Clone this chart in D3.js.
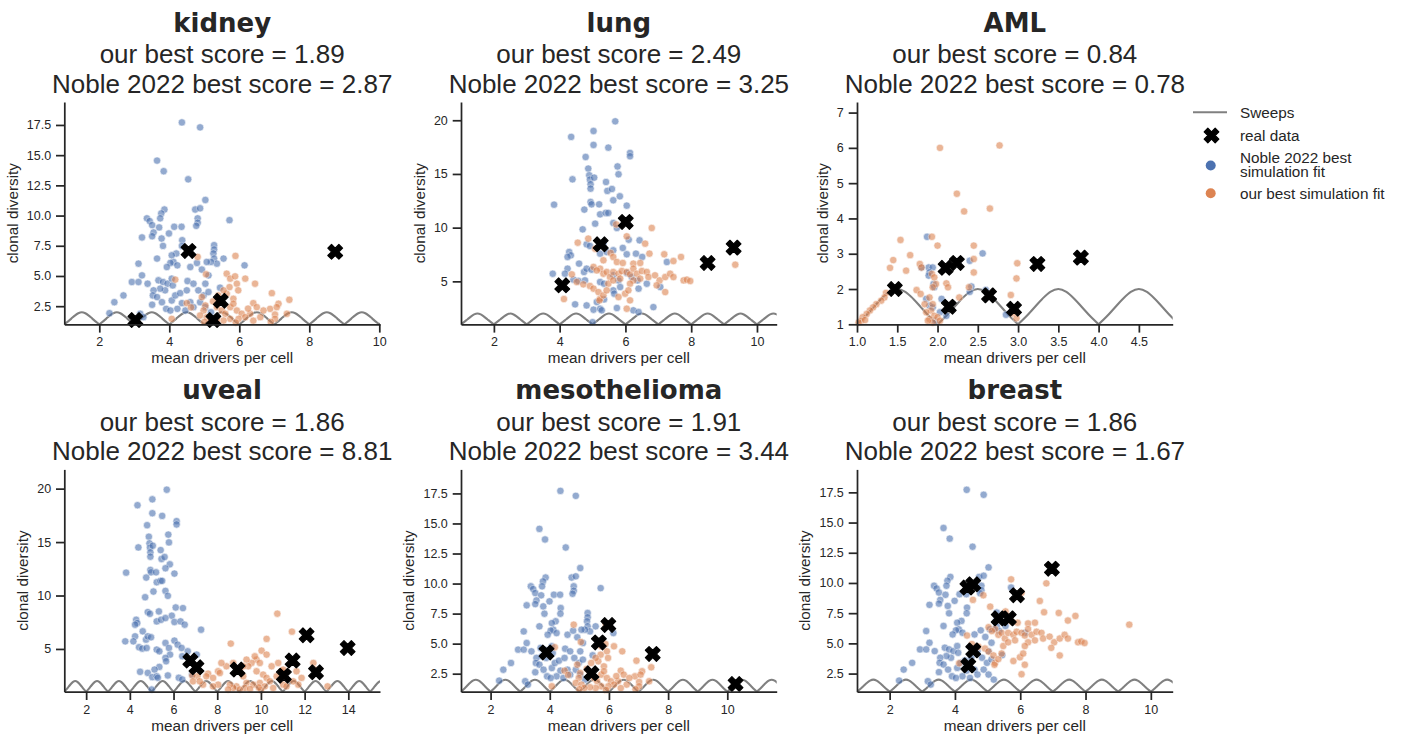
<!DOCTYPE html>
<meta charset="utf-8">
<style>
  body { margin: 0; background: #fff; }
  svg { display: block; }
  text { fill: #262626; }
  .axis path, .axis line { stroke: #262626; stroke-width: 1.74px; }
  .axis text { font: 12.5px "Liberation Sans", Arial, sans-serif; fill: #262626; }
  .label, .legend text { font: 15.3px "Liberation Sans", Arial, sans-serif; }
  .title { font: 26px "Liberation Sans", Arial, sans-serif; }
  .title .name { font-family: "DejaVu Sans", sans-serif; font-weight: bold; }
</style>
<svg width="1403" height="734"></svg>
<script src="https://cdn.jsdelivr.net/npm/d3@7"></script>
<script>
  'use strict';

  // --- data: [mean drivers per cell, clonal diversity] ---

  // Noble 2022 fit shared by kidney, mesothelioma, breast
  const nobleA = [
    [4.36,17.71],[4.88,17.3],[3.65,14.55],[3.84,13.67],[4.54,13.0],[5.03,11.29],[4.74,10.5],[4.88,10.6],
    [3.86,10.5],[3.77,10.18],[3.74,9.77],[3.36,9.77],[3.44,9.54],[3.51,9.21],[4.81,9.77],[4.81,9.4],
    [4.77,9.15],[5.72,9.62],[3.71,9.02],[3.55,8.6],[3.51,8.29],[4.14,9.07],[4.35,9.07],[3.22,8.19],
    [3.78,8.1],[3.82,7.49],[3.99,8.52],[4.37,7.96],[4.36,7.49],[5.28,7.55],[5.28,7.19],[5.26,6.86],
    [5.28,6.44],[5.36,6.02],[5.55,6.44],[5.19,6.16],[4.2,6.86],[4.07,6.71],[4.12,6.16],[4.03,6.08],
    [4.23,5.88],[3.93,5.74],[3.65,6.44],[3.12,6.02],[4.6,5.74],[4.79,6.08],[4.93,5.53],[5.07,6.16],
    [5.12,5.05],[6.15,5.88],[3.22,5.05],[2.93,4.5],[3.12,4.5],[3.38,4.36],[2.69,3.39],[2.43,2.83],
    [2.29,1.92],[3.69,4.64],[3.82,4.5],[3.95,4.36],[4.07,4.78],[4.1,4.22],[3.88,3.81],[3.74,3.95],
    [3.55,3.81],[3.53,3.39],[3.65,3.25],[3.79,2.83],[3.51,2.62],[3.91,2.28],[4.07,2.97],[4.17,3.39],
    [4.31,3.58],[4.52,4.58],[4.5,3.81],[4.36,2.75],[4.6,2.83],[4.23,2.28],[4.03,2.14],[4.46,2.14],
    [4.69,2.42],[3.17,1.87],[3.26,1.59],[4.69,4.36],[4.83,3.81],[5.03,4.36],[4.98,3.39],[5.12,3.67],
    [4.88,2.83],[5.03,2.42],[5.19,2.0],[5.45,4.03]
  ];

  // our fit shared by kidney, mesothelioma
  const oursA = [
    [4.81,6.58],[5.89,6.66],[5.05,5.14],[4.17,4.7],[5.64,5.19],[5.74,4.78],[5.88,4.97],[5.93,4.36],
    [6.17,4.78],[5.97,3.81],[5.72,4.08],[5.64,3.53],[5.83,3.11],[6.45,4.36],[6.93,3.58],[7.43,3.03],
    [7.12,2.7],[6.88,2.28],[7.02,1.81],[6.4,2.75],[6.5,2.42],[6.69,2.14],[6.31,1.87],[6.6,1.59],
    [4.5,2.75],[4.93,3.25],[5.03,2.56],[4.98,2.14],[4.88,1.73],[5.07,1.59],[5.36,2.42],[5.5,2.14],
    [5.6,1.87],[5.74,2.42],[5.83,2.7],[5.93,2.14],[6.07,1.87],[6.17,1.59],[5.98,1.45],[5.74,1.45],
    [5.55,1.31],[5.36,1.37],[5.17,1.31],[4.07,1.45],[7.02,1.45],[7.36,1.87],[5.55,3.81],[5.4,3.39],
    [7.07,2.42],[4.62,2.4],[5.25,2.9],[6.25,2.3],[6.9,1.2],[5.9,1.15],[5.0,1.2],[6.4,1.3]
  ];

  // Noble 2022 fit shared by lung, uveal
  const nobleB = [
    [5.69,19.9],[5.03,19.0],[4.35,18.45],[5.03,17.7],[5.48,17.45],[6.14,16.96],[6.14,16.65],[4.79,16.58],
    [4.87,15.5],[4.9,14.88],[4.92,14.47],[4.94,14.04],[4.94,13.63],[4.39,14.5],[5.05,14.66],[5.41,14.25],
    [5.76,15.7],[5.79,14.97],[5.45,13.42],[5.59,13.6],[5.83,12.92],[5.63,12.55],[4.94,12.39],[4.97,12.17],
    [5.2,12.17],[6.04,12.05],[3.83,12.14],[4.75,11.68],[5.23,11.24],[5.4,11.37],[5.48,11.37],[5.08,10.37],
    [5.63,10.43],[4.7,9.84],[5.74,9.97],[4.82,8.45],[4.92,8.29],[5.33,8.51],[5.92,8.11],[6.1,8.88],
    [6.43,8.82],[5.23,7.58],[5.43,7.73],[5.63,7.89],[6.04,7.52],[6.32,7.58],[6.51,7.27],[4.29,7.73],
    [4.34,7.42],[4.24,7.27],[4.24,6.18],[4.59,6.65],[4.74,5.87],[4.82,6.18],[4.97,6.09],[3.79,5.71],
    [4.16,5.71],[4.42,5.16],[4.57,5.03],[4.77,5.09],[5.23,4.94],[5.35,4.78],[5.63,5.56],[5.79,5.09],
    [5.84,4.47],[6.04,5.78],[6.19,5.4],[6.37,5.09],[6.4,4.32],[6.65,4.78],[7.26,6.8],[7.06,4.47],
    [5.63,4.16],[5.66,3.85],[5.35,3.32],[5.13,3.07],[4.82,2.76],[4.47,2.86],[5.03,2.36],[5.23,2.45],
    [5.28,2.3],[5.74,2.52],[6.24,2.3],[6.4,2.14],[6.85,2.6],[5.0,1.2]
  ];

  // our fit shared by lung, breast
  const oursB = [
    [6.8,9.97],[5.72,10.3],[6.04,9.19],[4.87,8.98],[4.55,8.6],[5.08,8.04],[6.6,8.51],[6.73,7.58],
    [7.18,7.52],[7.69,7.27],[7.46,6.89],[5.55,7.64],[5.63,7.27],[5.74,6.8],[5.92,6.71],[5.33,6.96],
    [6.24,6.65],[6.45,6.71],[5.23,6.18],[5.33,5.71],[5.43,5.87],[5.53,5.4],[5.63,5.87],[5.79,5.71],
    [5.89,5.96],[6.04,5.87],[6.14,5.65],[6.24,6.18],[6.35,5.71],[6.5,5.96],[6.65,5.87],[6.7,5.4],
    [6.45,5.25],[6.24,5.09],[6.14,4.78],[6.9,5.56],[7.04,5.09],[7.21,5.4],[7.36,5.71],[7.46,5.4],
    [7.77,5.09],[7.87,5.16],[7.97,5.03],[7.21,4.0],[6.95,4.63],[9.34,6.55],[4.13,3.35],[4.37,5.65],
    [4.52,4.94],[4.72,4.72],[4.92,4.57],[5.03,4.32],[5.18,4.0],[5.23,3.39],[5.21,3.23],[5.33,3.7],
    [5.48,4.78],[5.63,5.09],[5.84,5.25],[5.79,3.54],[5.99,3.85],[6.09,4.16],[6.14,3.23],[6.04,2.45],
    [5.43,4.16],[5.03,6.34],[5.13,6.02]
  ];

  const oursUveal = [
    [10.75,8.3],[11.42,6.62],[8.62,5.5],[10.26,5.94],[10.03,4.84],[10.26,4.47],[9.8,4.0],[9.57,3.69],
    [9.34,4.0],[9.42,3.38],[9.19,3.38],[9.72,4.31],[9.95,3.69],[8.73,3.69],[8.42,3.38],[8.19,3.69],
    [8.04,2.91],[8.12,2.75],[7.58,2.69],[7.5,2.44],[8.04,1.66],[7.81,1.5],[7.09,2.44],[6.86,2.5],
    [6.89,1.97],[9.03,3.07],[9.19,2.44],[9.34,1.82],[9.26,1.35],[8.88,1.5],[9.03,1.2],[8.73,1.35],
    [8.58,1.66],[9.8,2.91],[10.1,2.6],[10.26,2.29],[10.41,1.97],[9.95,1.82],[10.18,1.5],[10.56,1.35],
    [9.65,1.66],[10.72,2.44],[10.94,2.91],[10.49,3.38],[10.79,3.69],[11.02,3.07],[11.63,2.91],[11.86,2.29],
    [11.71,1.66],[12.4,3.69],[12.47,3.07],[11.48,1.97],[13.05,1.5],[11.02,1.66],[11.17,1.5],[7.35,1.66],
    [7.81,2.29],[7.2,1.97],[9.5,1.25],[10.0,1.15],[9.9,1.4],[8.5,1.2]
  ];

  const nobleAML = [
    [1.87,3.48],[2.56,3.01],[2.4,2.8],[1.89,2.61],[1.94,2.61],[1.9,2.47],[1.89,2.38],[1.8,2.61],
    [1.95,2.14],[1.96,2.05],[2.42,2.07],[1.86,1.72],[1.9,1.53],[1.94,1.48],[2.05,1.72],[2.11,1.24],
    [2.03,1.34],[2.85,1.27],[2.4,1.92],[2.6,1.97],[1.97,1.1]
  ];

  const oursAML = [
    [2.03,6.0],[2.77,6.07],[2.24,4.7],[2.33,4.2],[2.65,4.28],[1.54,3.39],[1.93,3.48],[2.0,3.23],
    [2.45,3.23],[1.45,2.82],[1.41,2.6],[1.66,2.96],[1.61,2.52],[1.78,2.71],[1.8,2.61],[2.45,2.85],
    [2.45,2.47],[2.39,2.05],[1.93,2.43],[1.96,2.33],[1.98,2.14],[1.94,2.05],[2.11,2.16],[2.13,2.05],
    [1.74,1.97],[1.79,1.86],[1.36,1.89],[1.34,1.76],[1.3,1.67],[1.24,1.57],[1.2,1.48],[1.16,1.39],
    [1.12,1.29],[1.07,1.2],[1.05,1.1],[1.9,1.76],[1.94,1.57],[1.92,1.39],[1.96,1.24],[2.0,1.2],
    [1.9,1.15],[1.94,1.05],[2.03,1.1],[1.84,1.57],[1.86,1.34],[1.88,1.1],[2.27,1.76],[2.91,1.83],
    [2.98,2.3],[2.99,2.73],[2.93,1.31],[2.98,1.17],[1.02,1.05],[1.1,1.12]
  ];

  const kidneyReal = [[3.03,1.35],[4.55,7.07],[5.26,1.35],[5.47,2.95],[8.74,7.0]];
  const lungReal = [[4.08,4.63],[5.25,8.45],[6.01,10.53],[8.5,6.71],[9.29,8.14]];
  const amlReal = [[1.47,2.0],[2.1,2.6],[2.24,2.74],[2.14,1.5],[2.64,1.82],[2.95,1.44],[3.24,2.71],[3.78,2.89]];
  const uvealReal = [[6.77,3.91],[7.05,3.28],[8.93,3.07],[11.05,2.5],[11.45,3.91],[12.09,6.28],[12.52,2.82],[13.97,5.09]];
  const mesoReal = [[3.89,4.27],[5.66,5.1],[5.98,6.55],[5.41,2.53],[7.48,4.14],[10.28,1.64]];
  const breastReal = [[4.38,9.62],[4.56,9.89],[5.9,8.99],[5.34,7.07],[5.65,7.07],[6.97,11.18],[4.56,4.42],[4.41,3.18]];

  // one sweep hump between n and n+1 drivers: [fraction, diversity], repeated at each integer
  const sweepHump = [[0,1],[0.1,1.22],[0.2,1.47],[0.3,1.72],[0.4,1.92],[0.5,2],
                     [0.6,1.92],[0.7,1.72],[0.8,1.47],[0.9,1.22],[1,1]];

  const cancers = ["kidney", "lung", "AML", "uveal", "mesothelioma", "breast"];
  const ourScores = ["1.89", "2.49", "0.84", "1.86", "1.91", "1.86"];
  const nobleScores = ["2.87", "3.25", "0.78", "8.81", "3.44", "1.67"];
  const nobleFits = [nobleA, nobleB, nobleAML, nobleB, nobleA, nobleA];
  const ourFits = [oursA, oursB, oursAML, oursUveal, oursA, oursB];
  const realData = [kidneyReal, lungReal, amlReal, uvealReal, mesoReal, breastReal];
  const xMaxes = [10.02, 10.6, 4.92, 15.45, 11.67, 10.67];
  const yMaxes = [19.4, 21.7, 7.3, 21.8, 19.5, 19.4];
  const xTickSets = [[2,4,6,8,10], [2,4,6,8,10], [1,1.5,2,2.5,3,3.5,4,4.5],
                     [2,4,6,8,10,12,14], [2,4,6,8,10], [2,4,6,8,10]];
  const yTickSets = [[2.5,5,7.5,10,12.5,15,17.5], [5,10,15,20], [1,2,3,4,5,6,7],
                     [5,10,15,20], [2.5,5,7.5,10,12.5,15,17.5], [2.5,5,7.5,10,12.5,15,17.5]];

  // --- layout ---
  const colLeft = [64.3, 461, 857],
        rowBottom = [324.3, 691.7],
        w = 315.7,
        h = 222.3,
        blue = "#4c72b0",
        orange = "#dd8452",
        sweepColor = "#808080";

  const svg = d3.select("svg");
  const xMarker = d3.symbol(d3.symbolCross, 135)();

  cancers.forEach((name, i) => {
    const col = i % 3, row = Math.floor(i / 3);
    const g = svg.append("g")
        .attr("transform", `translate(${colLeft[col]},${rowBottom[row] - h})`);

    const x = d3.scaleLinear().domain([1, xMaxes[i]]).range([0, w]);
    const y = d3.scaleLinear().domain([1, yMaxes[i]]).range([h, 0]);

    g.append("clipPath").attr("id", "clip" + i)
      .append("rect").attr("width", w).attr("height", h);

    // sweeps
    const line = d3.line().x((d) => x(d[0])).y((d) => y(d[1])).curve(d3.curveMonotoneX);
    const humps = d3.range(1, Math.ceil(xMaxes[i]))
          .map((n) => sweepHump.map((p) => [n + p[0], p[1]]));
    g.append("g").attr("clip-path", `url(#clip${i})`)
      .selectAll("path").data(humps).enter().append("path")
      .attr("d", line)
      .attr("fill", "none")
      .attr("stroke", sweepColor)
      .attr("stroke-width", 2.1);

    // simulation fits
    [[nobleFits[i], blue], [ourFits[i], orange]].forEach(([pts, c]) => {
      g.append("g").selectAll("circle").data(pts).enter().append("circle")
        .attr("cx", (d) => x(d[0]))
        .attr("cy", (d) => y(d[1]))
        .attr("r", 3.7)
        .attr("fill", c)
        .attr("stroke", "#fff")
        .attr("stroke-width", 0.6)
        .attr("opacity", 0.6);
    });

    // real data
    g.append("g").selectAll("path").data(realData[i]).enter().append("path")
      .attr("d", xMarker)
      .attr("transform", (d) => `translate(${x(d[0])},${y(d[1])}) rotate(45)`)
      .attr("fill", "#000")
      .attr("stroke", "#000")
      .attr("stroke-width", 1.2)
      .attr("stroke-linejoin", "round");

    // axes
    const xFmt = name === "AML" ? d3.format(".1f") : d3.format("d");
    const yFmt = yTickSets[i][0] === 2.5 ? d3.format(".1f") : d3.format("d");
    g.append("g").attr("class", "axis")
      .attr("transform", `translate(0,${h})`)
      .call(d3.axisBottom(x).tickValues(xTickSets[i]).tickFormat(xFmt)
            .tickSize(8.3).tickPadding(4.9).tickSizeOuter(0));
    const ya = g.append("g").attr("class", "axis")
      .call(d3.axisLeft(y).tickValues(yTickSets[i]).tickFormat(yFmt)
            .tickSize(8.3).tickPadding(4.9).tickSizeOuter(0));
    const bb = ya.node().getBBox();

    g.append("text").attr("class", "label")
      .attr("text-anchor", "middle")
      .attr("x", w / 2).attr("y", h + 39)
      .text("mean drivers per cell");
    g.append("text").attr("class", "label")
      .attr("text-anchor", "middle")
      .attr("transform", `translate(${bb.x - 9},${h / 2}) rotate(-90)`)
      .text("clonal diversity");

    // title
    const t = g.append("text").attr("class", "title").attr("text-anchor", "middle");
    t.append("tspan").attr("class", "name").attr("x", w / 2).attr("y", -70).text(name);
    t.append("tspan").attr("x", w / 2).attr("y", -38.7).text(`our best score = ${ourScores[i]}`);
    t.append("tspan").attr("x", w / 2).attr("y", -9.4).text(`Noble 2022 best score = ${nobleScores[i]}`);
  });

  // legend
  const lg = svg.append("g").attr("class", "legend");
  lg.append("line")
    .attr("x1", 1193).attr("x2", 1227).attr("y1", 112.3).attr("y2", 112.3)
    .attr("stroke", sweepColor).attr("stroke-width", 2.1);
  lg.append("path").attr("d", d3.symbol(d3.symbolCross, 135)())
    .attr("transform", "translate(1211.5,135.5) rotate(45)")
    .attr("fill", "#000").attr("stroke", "#000").attr("stroke-width", 1.2)
    .attr("stroke-linejoin", "round");
  lg.append("circle").attr("cx", 1210.7).attr("cy", 165.5).attr("r", 5).attr("fill", blue);
  lg.append("circle").attr("cx", 1210.7).attr("cy", 193.3).attr("r", 5).attr("fill", orange);
  const legendRows = [["Sweeps", 112.3], ["real data", 135.5], ["Noble 2022 best", 157],
                      ["simulation fit", 171.5], ["our best simulation fit", 193.3]];
  lg.selectAll("text.item").data(legendRows).enter().append("text")
    .attr("class", "item")
    .attr("x", 1240).attr("y", (d) => d[1])
    .attr("dominant-baseline", "central")
    .text((d) => d[0]);
</script>
